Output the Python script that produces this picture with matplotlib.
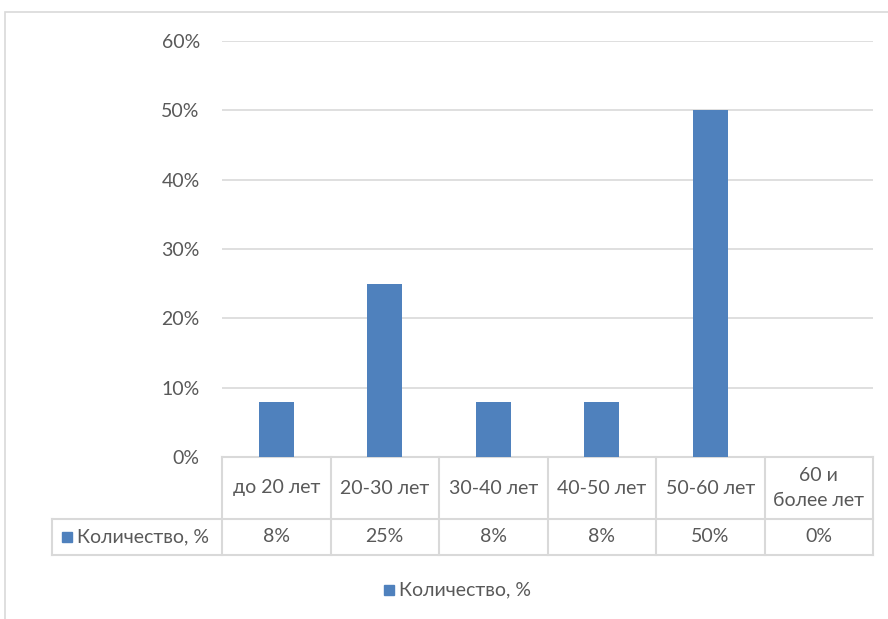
import matplotlib.pyplot as plt
from matplotlib.patches import Rectangle
from matplotlib.lines import Line2D
from matplotlib.transforms import blended_transform_factory

categories = ["до 20 лет", "20-30 лет", "30-40 лет", "40-50 лет", "50-60 лет", "60 и\nболее лет"]
values = [8, 25, 8, 8, 50, 0]
series_name = "Количество, %"
yticks = [0, 10, 20, 30, 40, 50, 60]

BAR = "#4F81BD"
GRID = "#D9D9D9"
TEXT = "#595959"
FS = 14

plt.rcParams["font.family"] = ["Lato", "DejaVu Sans"]

W, H = 888, 619
fig = plt.figure(figsize=(W / 100, H / 100), dpi=100)

# chart frame (runs off the right and bottom edges)
fig.patches.append(Rectangle((5 / W, -0.1), 1.2, 1 - 12 / H + 0.1, transform=fig.transFigure,
                             fill=False, edgecolor=GRID, linewidth=1.2))

left, right, top, bottom = 222, 873, 41, 457
ax = fig.add_axes([left / W, 1 - bottom / H, (right - left) / W, (bottom - top) / H])

x = list(range(len(categories)))
ax.bar(x, values, width=0.32, color=BAR, zorder=3)
ax.set_xlim(-0.5, len(categories) - 0.5)
ax.set_ylim(0, 60)
ax.set_yticks(yticks)
ax.set_yticklabels([f"{v}%" for v in yticks])
ax.tick_params(axis="y", length=0, pad=16, labelsize=FS, labelcolor=TEXT)
ax.set_xticks([])
ax.grid(axis="y", color=GRID, linewidth=1.2, zorder=0)
for s in ax.spines.values():
    s.set_visible(False)

# data table under the axis
tr = blended_transform_factory(ax.transData, ax.transAxes)
ax_h = bottom - top
row1 = -(519 - bottom) / ax_h
row2 = -(555 - bottom) / ax_h
px = len(categories) / (right - left)  # data units per pixel
x_label = (52 - left) * px - 0.5
x_end = len(categories) - 0.5

def line(xs, ys):
    ax.add_line(Line2D(xs, ys, transform=tr, color=GRID, linewidth=1.5, clip_on=False))

line([-0.5, x_end], [0, 0])
line([x_label, x_end], [row1, row1])
line([x_label, x_end], [row2, row2])
line([x_label, x_label], [row1, row2])
for i in range(len(categories) + 1):
    line([i - 0.5, i - 0.5], [0, row2])

for i, (cat, v) in enumerate(zip(categories, values)):
    ax.text(i, row1 / 2, cat, transform=tr, ha="center", va="center",
            fontsize=FS, color=TEXT, linespacing=1.55)
    ax.text(i, (row1 + row2) / 2, f"{v}%", transform=tr, ha="center", va="center",
            fontsize=FS, color=TEXT)

# series key in the table's row header
mid = (row1 + row2) / 2
sq_h = 10 / ax_h
ax.add_patch(Rectangle((x_label + 10 * px, mid - sq_h / 2), 10 * px, sq_h, transform=tr,
                       color=BAR, clip_on=False))
ax.text(x_label + 25 * px, mid, series_name, transform=tr, ha="left", va="center",
        fontsize=FS, color=TEXT)

# legend below the table
fig.patches.append(Rectangle((384 / W, 1 - 595 / H), 10 / W, 10 / H, transform=fig.transFigure,
                             color=BAR))
fig.text(399 / W, 1 - 590 / H, series_name, ha="left", va="center", fontsize=FS, color=TEXT)

fig.savefig("out.png", dpi=100)
